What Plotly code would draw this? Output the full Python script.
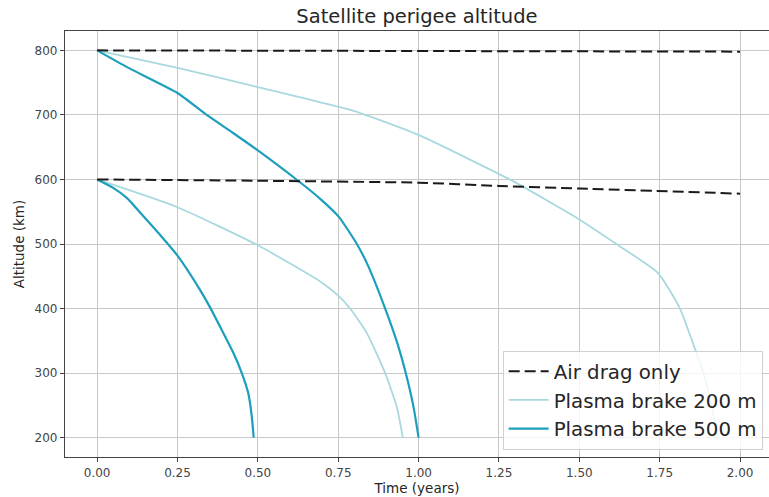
import plotly.graph_objects as go

# ---- data ----
# Air drag only
drag800_t = [0.0, 0.5, 1.0, 1.5, 2.0]
drag800_alt = [800, 799.5, 799, 798.5, 798]
drag600_t = [0.0, 0.5, 1.0, 1.25, 1.5, 2.0]
drag600_alt = [600, 598, 595, 590, 586, 578]

# Plasma brake 200 m
pb200_800_t = [0.0, 0.25, 0.5, 0.8, 0.88, 1.0, 1.295, 1.5, 1.6, 1.745, 1.813, 1.85, 1.886, 1.912, 1.93]
pb200_800_alt = [800, 773, 743, 706, 692, 669, 597, 538, 505, 455, 400, 351, 300, 248, 200]
pb200_600_t = [0.0, 0.25, 0.5, 0.694, 0.75, 0.787, 0.839, 0.896, 0.932, 0.951]
pb200_600_alt = [600, 557, 498, 442, 420, 400, 362, 300, 248, 200]

# Plasma brake 500 m
pb500_800_t = [0.0, 0.093, 0.25, 0.341, 0.423, 0.5, 0.625, 0.694, 0.752, 0.808, 0.844, 0.896, 0.934, 0.96, 0.984, 1.0]
pb500_800_alt = [800, 774, 734, 700, 672, 645, 598, 570, 542, 500, 465, 400, 346, 300, 248, 200]
pb500_600_t = [0.0, 0.05, 0.093, 0.144, 0.196, 0.25, 0.32, 0.35, 0.424, 0.45, 0.47, 0.481, 0.487]
pb500_600_alt = [600, 587, 571, 543, 514, 482, 429, 403, 331, 300, 269, 233, 200]

x_ticks = [0.0, 0.25, 0.5, 0.75, 1.0, 1.25, 1.5, 1.75, 2.0]
x_tick_labels = ["0.00", "0.25", "0.50", "0.75", "1.00", "1.25", "1.50", "1.75", "2.00"]
y_ticks = [200, 300, 400, 500, 600, 700, 800]

DRAG_COLOR = "#1a1a1a"
LIGHT = "#a9d9de"
DARK = "#1c9fbd"
SMOOTH = 0.5

fig = go.Figure()

# light curves
fig.add_trace(go.Scatter(x=pb200_800_t, y=pb200_800_alt, mode="lines",
                         line=dict(color=LIGHT, width=1.8, shape="spline", smoothing=SMOOTH),
                         name="Plasma brake 200 m", legendgroup="b200", legendrank=2))
fig.add_trace(go.Scatter(x=pb200_600_t, y=pb200_600_alt, mode="lines",
                         line=dict(color=LIGHT, width=1.8, shape="spline", smoothing=SMOOTH),
                         name="Plasma brake 200 m", legendgroup="b200", showlegend=False))
# dark curves
fig.add_trace(go.Scatter(x=pb500_800_t, y=pb500_800_alt, mode="lines",
                         line=dict(color=DARK, width=2.2, shape="spline", smoothing=SMOOTH),
                         name="Plasma brake 500 m", legendgroup="b500", legendrank=3))
fig.add_trace(go.Scatter(x=pb500_600_t, y=pb500_600_alt, mode="lines",
                         line=dict(color=DARK, width=2.2, shape="spline", smoothing=SMOOTH),
                         name="Plasma brake 500 m", legendgroup="b500", showlegend=False))
# air drag
fig.add_trace(go.Scatter(x=drag800_t, y=drag800_alt, mode="lines",
                         line=dict(color=DRAG_COLOR, width=2, dash="11px,5px"),
                         name="Air drag only", legendgroup="drag", legendrank=1))
fig.add_trace(go.Scatter(x=drag600_t, y=drag600_alt, mode="lines",
                         line=dict(color=DRAG_COLOR, width=2, dash="11px,5px", shape="spline", smoothing=0.5),
                         name="Air drag only", legendgroup="drag", showlegend=False))

fig.update_layout(
    width=769, height=497,
    margin=dict(l=65, r=0, t=31, b=40),
    paper_bgcolor="white", plot_bgcolor="white",
    font=dict(family="DejaVu Sans", color="#333333"),
    title=dict(text="Satellite perigee altitude", x=0.5422, xanchor="center",
               y=0.967, yanchor="middle", font=dict(size=19.5, color="#262626")),
    showlegend=True,
    legend=dict(x=0.991, xanchor="right", y=0.017, yanchor="bottom",
                bgcolor="rgba(255,255,255,0.8)", bordercolor="#d0d0d0", borderwidth=1,
                font=dict(size=19.8, color="#262626"), traceorder="normal",
                itemwidth=40),
)

fig.update_xaxes(
    range=[-0.1, 2.09], tickvals=x_ticks, ticktext=x_tick_labels,
    showgrid=True, gridcolor="#c8c8c8", gridwidth=1,
    showline=True, linecolor="#444444", linewidth=1.2, mirror=True,
    ticks="outside", ticklen=4, tickcolor="#444444",
    tickfont=dict(size=12, color="#444444"),
    title=dict(text="Time (years)", font=dict(size=13.5, color="#262626"), standoff=5),
    zeroline=False,
)
fig.update_yaxes(
    range=[170, 830], tickvals=y_ticks,
    showgrid=True, gridcolor="#c8c8c8", gridwidth=1,
    showline=True, linecolor="#444444", linewidth=1.2, mirror=False,
    ticks="outside", ticklen=4, tickcolor="#444444",
    tickfont=dict(size=12, color="#444444"),
    title=dict(text="Altitude (km)", font=dict(size=13.5, color="#262626"), standoff=6),
    zeroline=False,
)

fig.write_html("out.html")
